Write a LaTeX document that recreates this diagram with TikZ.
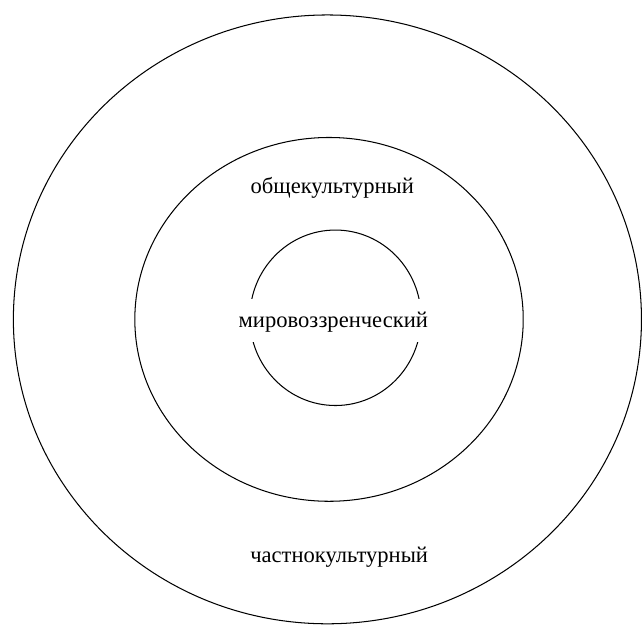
\documentclass[tikz,border=0pt]{standalone}
\usepackage{fontspec}
\setmainfont{Liberation Serif}
\tikzset{
  ring/.style={draw, line width=0.55pt},
  caption/.style={anchor=base, inner sep=0pt, font=\fontsize{12}{14}\selectfont},
}
\begin{document}
\begin{tikzpicture}
    \useasboundingbox (0, 0) rectangle (12.0, 11.67);
    \draw[ring] (6.12, 5.70) ellipse [x radius=5.87, y radius=5.69];
    \draw[ring] (6.15, 5.70) ellipse [x radius=3.63, y radius=3.40];
    \draw[ring] (6.27, 5.73) ellipse [x radius=1.60, y radius=1.64];
    % the inner label cuts the smallest ring
    \node[caption, fill=white, inner xsep=1pt, text height=0.54cm, text depth=0.28cm] (mirov) at (6.23, 5.55) {мировоззренческий};
    \node[caption] (obsch) at (6.21, 8.06) {общекультурный};
    \node[caption] (chast) at (6.34, 1.16) {частнокультурный};
  \end{tikzpicture}
\end{document}
